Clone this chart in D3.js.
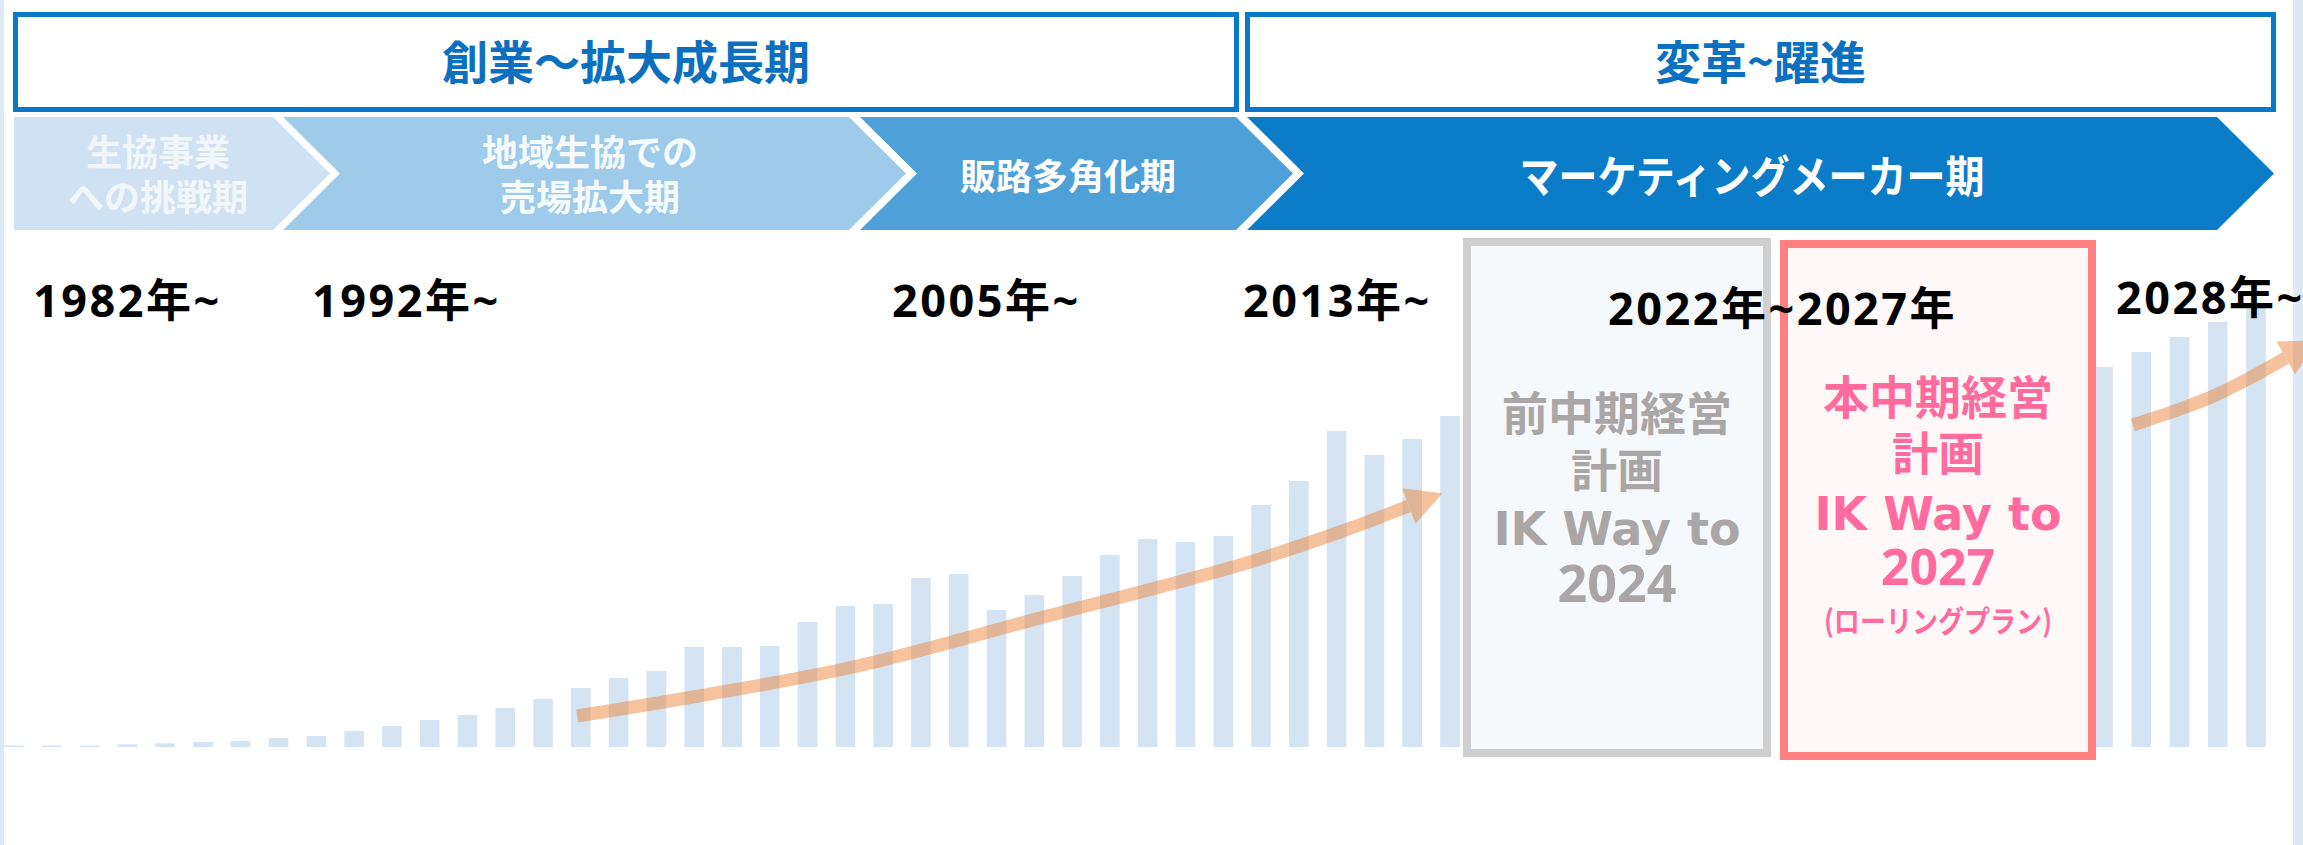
<!DOCTYPE html>
<html><head><meta charset="utf-8">
<script src="https://cdn.jsdelivr.net/npm/d3@7"></script>
<style>html,body{margin:0;padding:0;background:#fff;overflow:hidden}</style>
</head><body><svg id="chart" width="2303" height="845"></svg>
<script>
// ---------------- data ----------------
const actualYears = [1982,1983,1984,1985,1986,1987,1988,1989,1990,1991,1992,1993,1994,1995,1996,1997,1998,1999,2000,2001,2002,2003,2004,2005,2006,2007,2008,2009,2010,2011,2012,2013,2014,2015,2016,2017,2018,2019,2020];
const actualValues = [1.5,1.5,1.5,2.7,3.7,5,6,9,11,16,21,27,32,39,48,59,69,76,100,100,101,125,141,143,169,173,137,152,171,192,208,205,211,242,266,316,292,308,331];
const futureYears = [2028,2029,2030,2031,2032];
const futureValues = [380,395,410,425,439];
const eraLabels = ["創業～拡大成長期", "変革~躍進"];
const periodLabels = [["生協事業","への挑戦期"], ["地域生協での","売場拡大期"], ["販路多角化期"], ["マーケティングメーカー期"]];
const yearLabels = ["1982年~","1992年~","2005年~","2013年~","2022年~2027年","2028年~"];
const prevPlanLines = ["前中期経営","計画","IK Way to","2024"];
const currPlanLines = ["本中期経営","計画","IK Way to","2027","(ローリングプラン)"];
// trend arrows, in data coordinates [year, value]
const trendArrow1 = [[1996.90,31],[1999.81,49],[2004.20,80],[2009.15,129],[2014.44,182],[2017.09,215],[2018.91,241]];
const trendArrow2 = [[2028.78,322],[2030.09,339],[2030.95,352],[2031.84,369],[2032.78,389]];

// ---------------- layout ----------------
const svg = d3.select("#chart");
const CJK = "'Noto Sans CJK JP', sans-serif";
const x = d3.scaleLinear().domain([1982, 2020, 2028, 2032]).range([14, 1450, 2103, 2256]);
const y = d3.scaleLinear().domain([0, 500]).range([747, 247]);
const barW = 19.6;

// page side strips
svg.append("rect").attr("x",0).attr("y",0).attr("width",4).attr("height",845).attr("fill","#dde9f5");
svg.append("rect").attr("x",2293).attr("y",0).attr("width",10).attr("height",845).attr("fill","#dde9f5");

// era boxes
const eraBoxes = [{x0:13, x1:1239}, {x0:1245, x1:2276}];
eraBoxes.forEach((b,i)=>{
  svg.append("rect").attr("x",b.x0+2.5).attr("y",14.5).attr("width",b.x1-b.x0-5).attr("height",95)
    .attr("fill","#fff").attr("stroke","#0a78c8").attr("stroke-width",5);
  svg.append("text").attr("x",(b.x0+b.x1)/2).attr("y",79).attr("text-anchor","middle")
    .attr("font-family",CJK).attr("font-weight",700).attr("font-size",46).attr("fill","#0b70c0")
    .text(eraLabels[i]);
});

// period chevrons
const chevTop = 117, chevBot = 230, chevMid = 173.5, depth = 57;
const chevrons = [
  {L:14, R:273, flat:true, fill:"#cfe2f3", tx:158, tcol:"rgba(255,255,255,0.72)", fs:36, base:[166,211]},
  {L:283, R:849, fill:"#9dcbe9", tx:590, tcol:"rgba(255,255,255,0.92)", fs:36, base:[166,211]},
  {L:860, R:1236, fill:"#4ea1d8", tx:1068, tcol:"#ffffff", fs:36, base:[190]},
  {L:1247, R:2217, fill:"#0a7cc8", tx:1752, tcol:"#ffffff", fs:44, base:[193], len:465}
];
chevrons.forEach((c,i)=>{
  const pts = [[c.L,chevTop],[c.R,chevTop],[c.R+depth,chevMid],[c.R,chevBot],[c.L,chevBot]];
  if(!c.flat) pts.push([c.L+depth,chevMid]);
  svg.append("path").attr("d","M"+pts.map(p=>p.join(",")).join("L")+"Z").attr("fill",c.fill);
  periodLabels[i].forEach((t,j)=>{
    const tt = svg.append("text").attr("x",c.tx).attr("y",c.base[j]).attr("text-anchor","middle")
      .attr("font-family",CJK).attr("font-weight",700).attr("font-size",c.fs).attr("fill",c.tcol).text(t);
    if(c.len) tt.attr("textLength",c.len).attr("lengthAdjust","spacingAndGlyphs");
  });
});

// bars
const bars = actualYears.map((yr,i)=>({year:yr, value:actualValues[i]}))
  .concat(futureYears.map((yr,i)=>({year:yr, value:futureValues[i]})));
svg.append("g").selectAll("rect").data(bars).join("rect")
  .attr("x",d=>x(d.year)-barW/2).attr("y",d=>y(d.value))
  .attr("width",barW).attr("height",d=>y(0)-y(d.value)).attr("fill","#d4e4f2");

// trend arrows
function drawArrow(pts){
  const P = pts.map(p=>[x(p[0]), y(p[1])]);
  const g = svg.append("g").attr("opacity",0.47);
  g.append("path").attr("d", d3.line().curve(d3.curveCatmullRom)(P))
    .attr("fill","none").attr("stroke","#ED7D31").attr("stroke-width",13);
  const a = P[P.length-2], b = P[P.length-1];
  let dx = b[0]-a[0], dy = b[1]-a[1]; const L = Math.hypot(dx,dy); dx/=L; dy/=L;
  const len = 36, hw = 19;
  const tip = [b[0]+dx*len, b[1]+dy*len];
  const l = [b[0]-dy*hw, b[1]+dx*hw], r = [b[0]+dy*hw, b[1]-dx*hw];
  g.append("path").attr("d",`M${tip}L${l}L${r}Z`).attr("fill","#ED7D31");
}
drawArrow(trendArrow1);
drawArrow(trendArrow2);

// plan boxes
const planBoxes = [
  {x0:1463, x1:1771, y0:238, y1:757, stroke:"#cfcfcf", fill:"#f5f9fc", col:"#aaa6a5", lines:prevPlanLines,
   fmt:[[CJK,46,430],[CJK,46,487],["'DejaVu Sans', sans-serif",46,545],["'Open Sans', sans-serif",52,602]]},
  {x0:1780, x1:2096, y0:240, y1:760, stroke:"#ff8080", fill:"#fff8f8", col:"#ff6a9f", lines:currPlanLines,
   fmt:[[CJK,46,414],[CJK,46,470],["'DejaVu Sans', sans-serif",46,530],["'Open Sans', sans-serif",50,585],[CJK,30,632,228]]}
];
planBoxes.forEach(b=>{
  const sw = 8;
  svg.append("rect").attr("x",b.x0+sw/2).attr("y",b.y0+sw/2).attr("width",b.x1-b.x0-sw).attr("height",b.y1-b.y0-sw)
    .attr("fill",b.fill).attr("stroke",b.stroke).attr("stroke-width",sw);
  b.lines.forEach((t,j)=>{
    const f = b.fmt[j];
    const tt = svg.append("text").attr("x",(b.x0+b.x1)/2).attr("y",f[2]).attr("text-anchor","middle")
      .attr("font-family",f[0]).attr("font-weight",700).attr("font-size",f[1]).attr("fill",b.col).text(t);
    if(f[3]) tt.attr("textLength",f[3]).attr("lengthAdjust","spacingAndGlyphs");
  });
});

// year labels
const yearPos = [[33,317],[312,317],[892,317],[1243,317],[1608,325],[2116,314]];
yearLabels.forEach((t,i)=>{
  svg.append("text").attr("x",yearPos[i][0]).attr("y",yearPos[i][1])
    .attr("font-family","'Open Sans', 'Noto Sans CJK JP', sans-serif").attr("font-weight",700)
    .attr("font-size",45).attr("letter-spacing",2.5).attr("fill","#000").text(t);
});
</script></body></html>
